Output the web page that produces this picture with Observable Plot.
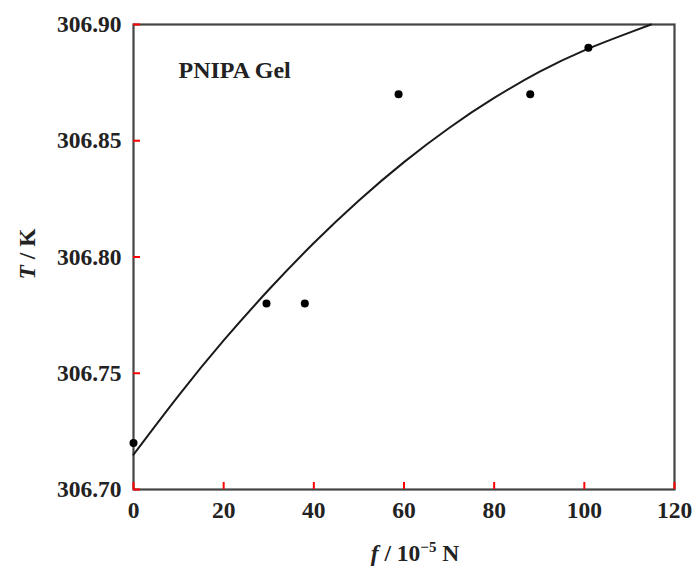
<!DOCTYPE html>
<html><head><meta charset="utf-8">
<script src="https://cdn.jsdelivr.net/npm/d3@7"></script>
<script src="https://cdn.jsdelivr.net/npm/@observablehq/plot@0.6"></script>
<style>body{margin:0;background:#fff}</style>
</head><body><div id="chart"></div>
<script>
// Measured points
const forceF = [0, 29.5, 38, 58.8, 88, 100.9];
const tempT = [306.72, 306.78, 306.78, 306.87, 306.87, 306.89];
// Fitted curve
const curveF = [0, 10, 20, 30, 40, 50, 60, 70, 80, 90, 100, 110, 114.8];
const curveT = [306.7150, 306.7404, 306.7641, 306.7859, 306.8060, 306.8243, 306.8408, 306.8555, 306.8684, 306.8796, 306.8889, 306.8965, 306.9000];
const xTicks = [0, 20, 40, 60, 80, 100, 120];
const yTicks = [306.70, 306.75, 306.80, 306.85, 306.90];
const annotation = "PNIPA Gel";

const points = forceF.map((f, i) => ({f, T: tempT[i]}));
const curve = curveF.map((f, i) => ({f, T: curveT[i]}));

const serif = "'Liberation Serif', 'DejaVu Serif', serif";
const W = 695, H = 567, mL = 133, mR = 21, mT = 24, mB = 78;
const tickLen = 7;
const chart = Plot.plot({
  width: W,
  height: H,
  marginLeft: mL,
  marginRight: mR,
  marginTop: mT,
  marginBottom: mB,
  style: {fontFamily: serif, fontSize: "23.5px", fontWeight: "bold", color: "#222", background: "#fff"},
  x: {domain: [0, 120]},
  y: {domain: [306.70, 306.90]},
  marks: [
    Plot.axisX({ticks: xTicks, tickSize: 0, tickPadding: 12, label: null, tickFormat: d3.format("d")}),
    Plot.axisY({ticks: yTicks, tickSize: 0, tickPadding: 12, label: null, tickFormat: d3.format(".2f")}),
    Plot.frame({stroke: "#444", strokeWidth: 2.2}),
    Plot.tickX(xTicks, {x: d => d, insetTop: (H - mT - mB) - tickLen, stroke: "red", strokeWidth: 2}),
    Plot.tickY(yTicks, {y: d => d, insetRight: (W - mL - mR) - tickLen, stroke: "red", strokeWidth: 2}),
    Plot.line(curve, {x: "f", y: "T", stroke: "#1a1a1a", strokeWidth: 2, curve: "natural"}),
    Plot.dot(points, {x: "f", y: "T", r: 4, fill: "#000", stroke: "none"}),
    Plot.text([annotation], {text: d => d, frameAnchor: "top-left", dx: 45, dy: 46, textAnchor: "start", lineAnchor: "middle", fontSize: 24, fontWeight: "bold", fill: "#222"})
  ]
});
document.getElementById("chart").appendChild(chart);

const svg = d3.select(chart);
// x axis label: f / 10^-5 N
const xl = svg.append("text")
  .attr("x", 415).attr("y", 561)
  .attr("text-anchor", "middle")
  .attr("font-family", serif).attr("font-size", 23.5).attr("font-weight", "bold").attr("fill", "#222");
xl.append("tspan").attr("font-style", "italic").text("f");
xl.append("tspan").text(" / 10");
xl.append("tspan").attr("font-size", 15).attr("dy", -9).text("\u22125");
xl.append("tspan").attr("dy", 9).text(" N");
// y axis label: T / K
const yl = svg.append("text")
  .attr("transform", "translate(35,254) rotate(-90)")
  .attr("text-anchor", "middle")
  .attr("font-family", serif).attr("font-size", 23.5).attr("font-weight", "bold").attr("fill", "#222");
yl.append("tspan").attr("font-style", "italic").text("T");
yl.append("tspan").text(" / K");
</script>
</body></html>
